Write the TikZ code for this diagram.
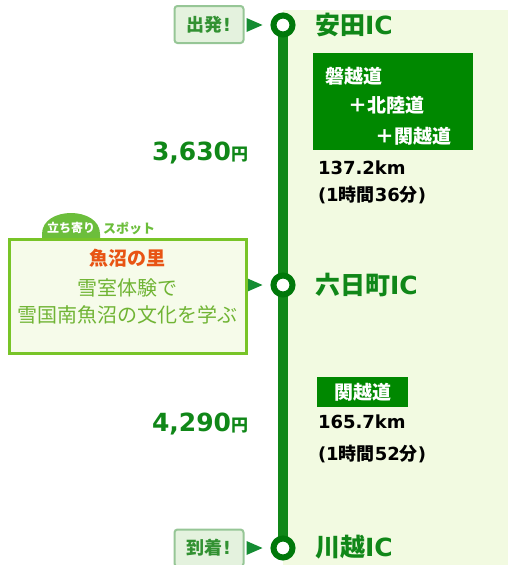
\documentclass[tikz,border=0pt]{standalone}
\usepackage{fontspec}
\newfontfamily\jp{Noto Sans CJK JP}
\newfontfamily\dv{DejaVu Sans}
\usetikzlibrary{calc}
\definecolor{dkgreen}{RGB}{16,135,24}
\definecolor{boxgreen}{RGB}{0,136,0}
\definecolor{ringgreen}{RGB}{0,120,10}
\definecolor{panelbg}{RGB}{242,250,225}
\definecolor{tagfill}{RGB}{228,242,222}
\definecolor{tagborder}{RGB}{150,198,150}
\definecolor{tagtext}{RGB}{50,145,50}
\definecolor{spotborder}{RGB}{120,196,40}
\definecolor{spotfill}{RGB}{246,251,234}
\definecolor{spottext}{RGB}{112,180,52}
\definecolor{spottitle}{RGB}{232,84,20}
\definecolor{tabgreen}{RGB}{108,190,60}
\definecolor{trigreen}{RGB}{20,140,50}
\newcommand\setfs[1]{\fontsize{#1}{#1}\selectfont}
\newcommand\J[1]{{\jp\bfseries #1}}
\newcommand\D[1]{{\dv\bfseries #1}}
\begin{document}
\begin{tikzpicture}[x=1pt,y=-1pt,
  lbl/.style={inner sep=0pt, outer sep=0pt},
  stop/.style={circle, draw=ringgreen, fill=white, line width=6pt, minimum size=19pt, inner sep=0pt},
  route/.style={draw=dkgreen, line width=10pt},
  tagbox/.style={draw=tagborder, fill=tagfill, line width=2pt, rounded corners=3pt, inner sep=0pt, text=tagtext},
  roadbox/.style={fill=boxgreen, inner sep=0pt},
  spotbox/.style={draw=spotborder, fill=spotfill, line width=2.5pt, inner sep=0pt},
  tri/.style={fill=trigreen},
  ictext/.style={lbl, anchor=west, text=dkgreen},
  roadtext/.style={lbl, anchor=west, text=white},
  infotext/.style={lbl, anchor=west, text=black},
  fare/.style={lbl, anchor=base west, text=dkgreen}
]
\useasboundingbox (0,0) rectangle (508,565);
\fill[panelbg] (283,10) rectangle (508,565);

% route line and stops
\coordinate (p1) at (283,25);
\coordinate (p2) at (283,285);
\coordinate (p3) at (283,548);
\draw[route] (p1) -- (p3);
\node[stop] (c1) at (p1) {};
\node[stop] (c2) at (p2) {};
\node[stop] (c3) at (p3) {};

% IC names
\node[ictext] (ic1) at (315,25) {\setfs{25}\J{安田}\D{IC}};
\node[ictext] (ic2) at (315,285) {\setfs{25}\J{六日町}\D{IC}};
\node[ictext] (ic3) at (315,547) {\setfs{25}\J{川越}\D{IC}};

% start / goal tags
\node[tagbox, minimum width=69pt, minimum height=37pt] (t1) at (209,24.5) {\setfs{18}\J{出発}\D{!}};
\node[tagbox, minimum width=69pt, minimum height=37pt] (t3) at (209,548) {\setfs{18}\J{到着}\D{!}};
\fill[tri] ($(c1.west)+(-24,-7)$) -- ($(c1.west)+(-24,7)$) -- ($(c1.west)+(-8,0)$) -- cycle;
\fill[tri] ($(c3.west)+(-24,-7)$) -- ($(c3.west)+(-24,7)$) -- ($(c3.west)+(-8,0)$) -- cycle;
\fill[tri] ($(c2.west)+(-24,-7)$) -- ($(c2.west)+(-24,7)$) -- ($(c2.west)+(-8,0)$) -- cycle;

% road box 1
\node[roadbox, minimum width=160pt, minimum height=97pt, anchor=north west] (rb1) at (313,53) {};
\node[roadtext] (r1a) at (325,76) {\setfs{19}\J{磐越道}};
\node[roadtext] (r1b) at (348,105) {\setfs{19}\J{＋北陸道}};
\node[roadtext] (r1c) at (375,136) {\setfs{19}\J{＋関越道}};
\node[infotext] (d1) at (318,168) {\setfs{18}\D{137.2km}};
\node[infotext] (tm1) at (318,195) {\setfs{18}\D{(1}\J{時間}\D{36}\J{分}\D{)}};

% road box 2
\node[roadbox, minimum width=91pt, minimum height=30pt, anchor=north west] (rb2) at (317,377) {};
\node[lbl, text=white] (r2a) at (rb2.center) {\setfs{19}\J{関越道}};
\node[infotext] (d2) at (318,422) {\setfs{18}\D{165.7km}};
\node[infotext] (tm2) at (318,454) {\setfs{18}\D{(1}\J{時間}\D{52}\J{分}\D{)}};

% fares
\node[fare] (f1) at (152,160) {\setfs{25}\D{3,630}\setfs{17}\J{円}};
\node[fare] (f2) at (152,431) {\setfs{25}\D{4,290}\setfs{17}\J{円}};

% spot
\fill[tabgreen] (42,238) -- (42,234) .. controls (42,206) and (100,206) .. (100,234) -- (100,238) -- cycle;
\node[lbl, text=white] (tab1) at (71,228) {\setfs{12}\J{立ち寄り}};
\node[lbl, text=tabgreen] (tab2) at (129,228) {\setfs{13}\J{スポット}};
\node[spotbox, minimum width=237pt, minimum height=114pt, anchor=north west] (spot) at (8,238) {};
\node[lbl, text=spottitle] (s1) at (127,258) {\setfs{19}\J{魚沼の里}};
\node[lbl, text=spottext] (s2) at (127,288) {\setfs{20}{\jp 雪室体験で}};
\node[lbl, text=spottext] (s3) at (127,315) {\setfs{20}{\jp 雪国南魚沼の文化を学ぶ}};
\end{tikzpicture}
\end{document}
